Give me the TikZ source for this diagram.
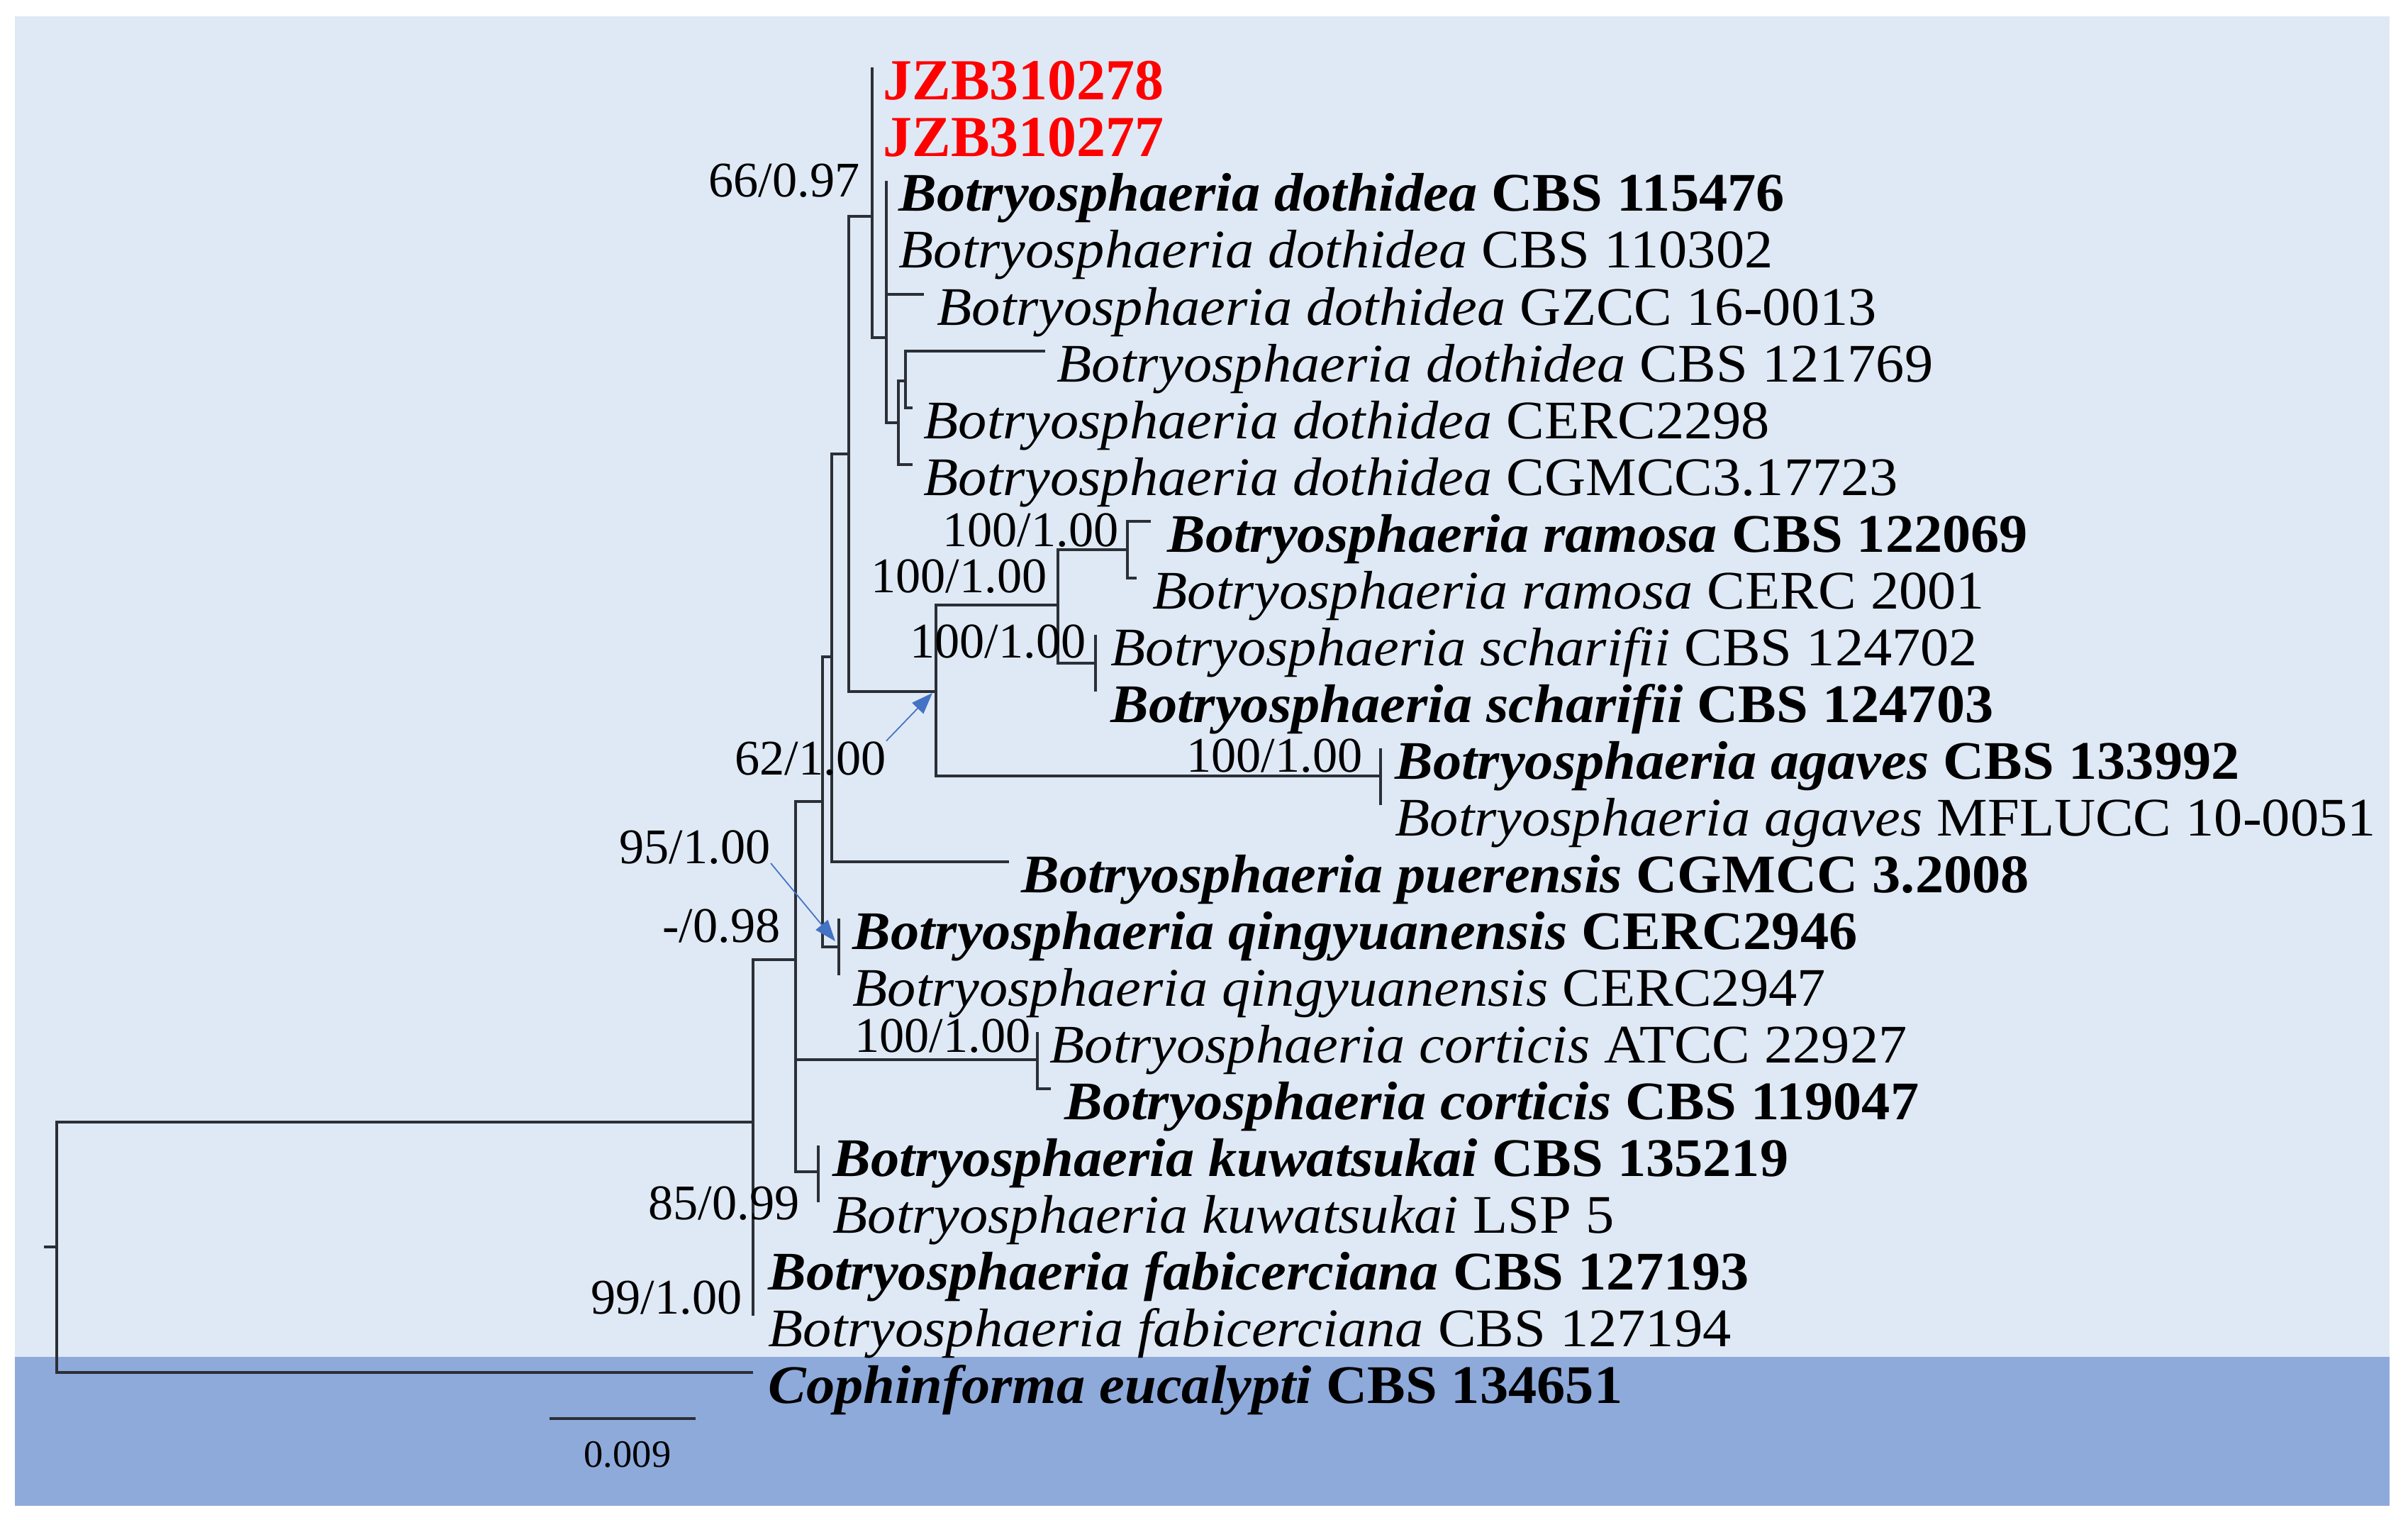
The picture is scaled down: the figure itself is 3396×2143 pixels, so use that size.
\documentclass[tikz,border=0pt]{standalone}
\usepackage{fontspec}
\setmainfont{Liberation Serif}
\newfontfamily\taxfont{Liberation Serif}[FakeStretch=1.05]
\usetikzlibrary{arrows.meta,positioning,calc}
\definecolor{BgLight}{HTML}{DFE9F5}
\definecolor{BgDark}{HTML}{8EAADB}
\definecolor{Branch}{HTML}{2B2F36}
\definecolor{NewStrain}{HTML}{FF0000}
\definecolor{Pointer}{HTML}{4472C4}
\newcommand{\plainstrain}[2]{\textit{#1} #2}
\newcommand{\typestrain}[2]{\textbf{\textit{#1} #2}}

\begin{document}
\begin{tikzpicture}[x=0.1mm, y=-0.1mm,
    taxon/.style={anchor=base west, inner sep=0pt,
                  font=\taxfont\fontsize{21.8pt}{24pt}\selectfont},
    newtaxon/.style={anchor=base west, inner sep=0pt, text=NewStrain,
                  font=\bfseries\fontsize{23.3pt}{26pt}\selectfont},
    support/.style={anchor=base east, inner sep=0pt,
                  font=\fontsize{20pt}{22pt}\selectfont},
    branch/.style={draw=Branch, line width=0.95pt},
    pointer/.style={draw=Pointer, line width=0.5pt,
                  -{Triangle[length=3mm, width=2.2mm]}}]
    \useasboundingbox (0,0) rectangle (3396,2143);
    \fill[BgLight] (21,23) rectangle (3370,1913);
    \fill[BgDark] (21,1913) rectangle (3370,2123);

    \coordinate (nRoot) at (80,1758);
    \coordinate (stub) at (62,1758);
    \coordinate (nIn) at (1062,1582);
    \coordinate (nE) at (1122,1353);
    \coordinate (nG) at (1160,1130);
    \coordinate (nH) at (1173,926);
    \coordinate (nI) at (1197,640);
    \coordinate (nA) at (1230,305);
    \coordinate (nB) at (1250,476);
    \coordinate (nC) at (1267,596);
    \coordinate (nD) at (1277,537);
    \coordinate (nJ) at (1320,975);
    \coordinate (nK) at (1492,853);
    \coordinate (nL) at (1590,775);
    \coordinate (nM) at (1545,935);
    \coordinate (nAg) at (1947,1094);
    \coordinate (nQ) at (1183,1335);
    \coordinate (nCo) at (1463,1494);
    \coordinate (nKu) at (1154,1652);

    \coordinate (tip1) at (1230,95);
    \coordinate (tip2) at (1230,175);
    \coordinate (tip3) at (1250,255);
    \coordinate (tip4) at (1250,335);
    \coordinate (tip5) at (1303,415);
    \coordinate (tip6) at (1474,495);
    \coordinate (tip7) at (1287,575);
    \coordinate (tip8) at (1287,655);
    \coordinate (tip9) at (1623,735);
    \coordinate (tip10) at (1603,815);
    \coordinate (tip11) at (1545,895);
    \coordinate (tip12) at (1545,975);
    \coordinate (tip13) at (1947,1055);
    \coordinate (tip14) at (1947,1135);
    \coordinate (tip15) at (1423,1215);
    \coordinate (tip16) at (1183,1295);
    \coordinate (tip17) at (1183,1375);
    \coordinate (tip18) at (1463,1455);
    \coordinate (tip19) at (1482,1535);
    \coordinate (tip20) at (1154,1615);
    \coordinate (tip21) at (1154,1695);
    \coordinate (tip22) at (1062,1775);
    \coordinate (tip23) at (1062,1855);
    \coordinate (tip24) at (1062,1935);

    \draw[branch] (stub) -- (nRoot);
    \draw[branch] (nIn) -| (nRoot);
    \draw[branch] (tip24) -| (nRoot);
    \draw[branch] (nE) -| (nIn);
    \draw[branch] (tip22) -| (nIn);
    \draw[branch] (tip23) -| (nIn);
    \draw[branch] (nG) -| (nE);
    \draw[branch] (nCo) -| (nE);
    \draw[branch] (nKu) -| (nE);
    \draw[branch] (nH) -| (nG);
    \draw[branch] (nQ) -| (nG);
    \draw[branch] (nI) -| (nH);
    \draw[branch] (tip15) -| (nH);
    \draw[branch] (nA) -| (nI);
    \draw[branch] (nJ) -| (nI);
    \draw[branch] (tip1) -| (nA);
    \draw[branch] (tip2) -| (nA);
    \draw[branch] (nB) -| (nA);
    \draw[branch] (tip3) -| (nB);
    \draw[branch] (tip4) -| (nB);
    \draw[branch] (tip5) -| (nB);
    \draw[branch] (nC) -| (nB);
    \draw[branch] (nD) -| (nC);
    \draw[branch] (tip8) -| (nC);
    \draw[branch] (tip6) -| (nD);
    \draw[branch] (tip7) -| (nD);
    \draw[branch] (nK) -| (nJ);
    \draw[branch] (nAg) -| (nJ);
    \draw[branch] (nL) -| (nK);
    \draw[branch] (nM) -| (nK);
    \draw[branch] (tip9) -| (nL);
    \draw[branch] (tip10) -| (nL);
    \draw[branch] (tip11) -| (nM);
    \draw[branch] (tip12) -| (nM);
    \draw[branch] (tip13) -| (nAg);
    \draw[branch] (tip14) -| (nAg);
    \draw[branch] (tip16) -| (nQ);
    \draw[branch] (tip17) -| (nQ);
    \draw[branch] (tip18) -| (nCo);
    \draw[branch] (tip19) -| (nCo);
    \draw[branch] (tip20) -| (nKu);
    \draw[branch] (tip21) -| (nKu);

    \node[newtaxon] (jzb278) at (1245,141) {JZB310278};
    \node[newtaxon] (jzb277) at (1245,221) {JZB310277};
    \node[taxon] (doth115476) at (1267,298) {\typestrain{Botryosphaeria dothidea}{CBS 115476}};
    \node[taxon] (doth110302) at (1267,378) {\plainstrain{Botryosphaeria dothidea}{CBS 110302}};
    \node[taxon] (dothgzcc) at (1321,458) {\plainstrain{Botryosphaeria dothidea}{GZCC 16-0013}};
    \node[taxon] (doth121769) at (1490,538) {\plainstrain{Botryosphaeria dothidea}{CBS 121769}};
    \node[taxon] (dothcerc) at (1302,618) {\plainstrain{Botryosphaeria dothidea}{CERC2298}};
    \node[taxon] (dothcgmcc) at (1302,698) {\plainstrain{Botryosphaeria dothidea}{CGMCC3.17723}};
    \node[taxon] (ramcbs) at (1646,778) {\typestrain{Botryosphaeria ramosa}{CBS 122069}};
    \node[taxon] (ramcerc) at (1625,858) {\plainstrain{Botryosphaeria ramosa}{CERC 2001}};
    \node[taxon] (scha702) at (1566,938) {\plainstrain{Botryosphaeria scharifii}{CBS 124702}};
    \node[taxon] (scha703) at (1566,1018) {\typestrain{Botryosphaeria scharifii}{CBS 124703}};
    \node[taxon] (agacbs) at (1967,1098) {\typestrain{Botryosphaeria agaves}{CBS 133992}};
    \node[taxon] (agamfl) at (1967,1178) {\plainstrain{Botryosphaeria agaves}{MFLUCC 10-0051}};
    \node[taxon] (puer) at (1440,1258) {\typestrain{Botryosphaeria puerensis}{CGMCC 3.2008}};
    \node[taxon] (qing946) at (1202,1338) {\typestrain{Botryosphaeria qingyuanensis}{CERC2946}};
    \node[taxon] (qing947) at (1202,1418) {\plainstrain{Botryosphaeria qingyuanensis}{CERC2947}};
    \node[taxon] (cortatcc) at (1480,1498) {\plainstrain{Botryosphaeria corticis}{ATCC 22927}};
    \node[taxon] (cortcbs) at (1501,1578) {\typestrain{Botryosphaeria corticis}{CBS 119047}};
    \node[taxon] (kuwcbs) at (1174,1658) {\typestrain{Botryosphaeria kuwatsukai}{CBS 135219}};
    \node[taxon] (kuwlsp) at (1174,1738) {\plainstrain{Botryosphaeria kuwatsukai}{LSP 5}};
    \node[taxon] (fab193) at (1083,1818) {\typestrain{Botryosphaeria fabicerciana}{CBS 127193}};
    \node[taxon] (fab194) at (1083,1898) {\plainstrain{Botryosphaeria fabicerciana}{CBS 127194}};
    \node[taxon] (coph) at (1083,1978) {\typestrain{Cophinforma eucalypti}{CBS 134651}};

    \node[support] (lab66) at (1213,277) {66/0.97};
    \node[support] (labL) at (1578,770) {100/1.00};
    \node[support] (labK) at (1477,835) {100/1.00};
    \node[support] (labM) at (1532,927) {100/1.00};
    \node[support] (lab62) at (1250,1092) {62/1.00};
    \node[support] (labAg) at (1922,1088) {100/1.00};
    \node[support] (lab95) at (1087,1217) {95/1.00};
    \node[support] (lab98) at (1101,1328) {-/0.98};
    \node[support] (labCo) at (1454,1483) {100/1.00};
    \node[support] (lab85) at (1128,1719) {85/0.99};
    \node[support] (lab99) at (1047,1852) {99/1.00};

    \coordinate (pt62) at (1315,977);
    \coordinate (pt95) at (1178,1327);
    \draw[pointer] (lab62.north east) -- (pt62);
    \draw[pointer] (lab95.base east) -- (pt95);

    \coordinate (barL) at (775,2000);
    \coordinate (barR) at (981,2000);
    \draw[branch] (barL) -- (barR);
    \node[font=\fontsize{15.5pt}{17pt}\selectfont, inner sep=0pt] (barlab) at (885,2051) {0.009};
\end{tikzpicture}
\end{document}
